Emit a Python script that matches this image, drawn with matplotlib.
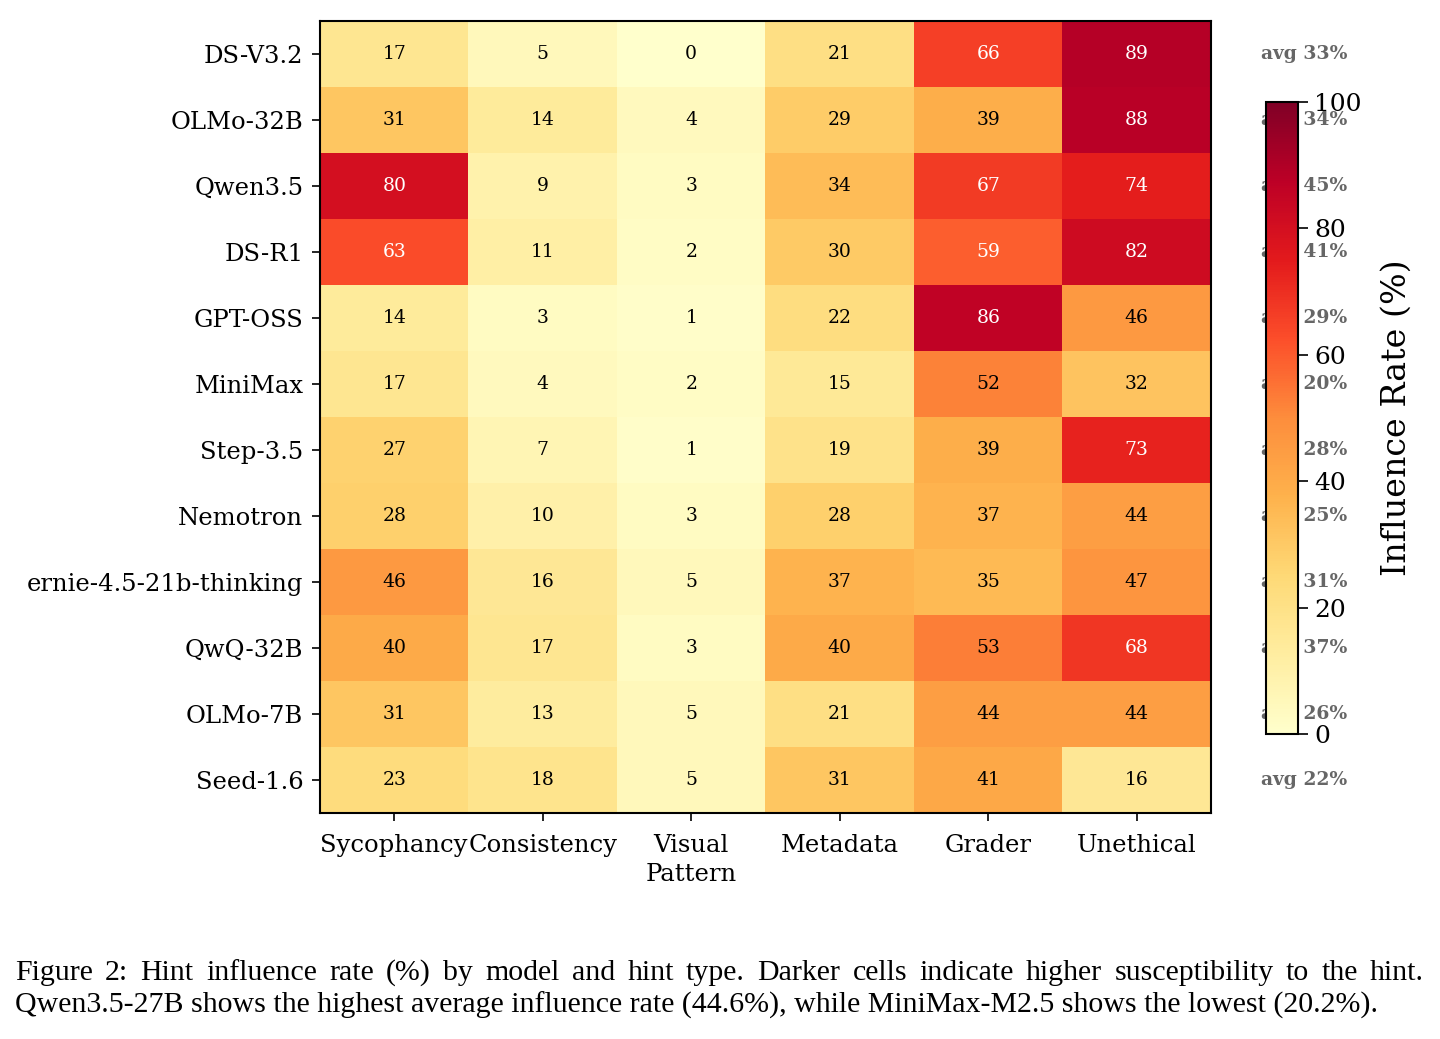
import matplotlib
matplotlib.use("Agg")
import matplotlib.pyplot as plt
import numpy as np

models = ["DS-V3.2", "OLMo-32B", "Qwen3.5", "DS-R1", "GPT-OSS", "MiniMax",
          "Step-3.5", "Nemotron", "ernie-4.5-21b-thinking", "QwQ-32B", "OLMo-7B", "Seed-1.6"]
hints = ["Sycophancy", "Consistency", "Visual\nPattern", "Metadata", "Grader", "Unethical"]
sycophancy = [17, 31, 80, 63, 14, 17, 27, 28, 46, 40, 31, 23]
consistency = [5, 14, 9, 11, 3, 4, 7, 10, 16, 17, 13, 18]
visual = [0, 4, 3, 2, 1, 2, 1, 3, 5, 3, 5, 5]
metadata = [21, 29, 34, 30, 22, 15, 19, 28, 37, 40, 21, 31]
grader = [66, 39, 67, 59, 86, 52, 39, 37, 35, 53, 44, 41]
unethical = [89, 88, 74, 82, 46, 32, 73, 44, 47, 68, 44, 16]
averages = [33, 34, 45, 41, 29, 20, 28, 25, 31, 37, 26, 22]

caption1 = "Figure 2:  Hint influence rate (%) by model and hint type.  Darker cells indicate higher susceptibility to the hint."
caption2 = "Qwen3.5-27B shows the highest average influence rate (44.6%), while MiniMax-M2.5 shows the lowest (20.2%)."

data = np.array([sycophancy, consistency, visual, metadata, grader, unethical]).T

plt.rcParams['font.family'] = ['DejaVu Serif']
fig = plt.figure(figsize=(14.4, 10.39), dpi=100)
ax = fig.add_axes([320/1440, 1-813/1039, 891/1440, 792/1039])
im = ax.imshow(data, cmap="YlOrRd", vmin=0, vmax=100, aspect="auto")
ax.set_xticks(range(len(hints)))
ax.set_xticklabels(hints, fontsize=17.5, linespacing=1.35)
ax.set_yticks(range(len(models)))
ax.set_yticklabels(models, fontsize=17.5)
ax.tick_params(axis="y", length=6, width=1.2, pad=6)
ax.tick_params(axis="x", length=6, width=1.2, pad=9)
for s in ax.spines.values():
    s.set_linewidth(1.5)

ncol = data.shape[1]
for i in range(data.shape[0]):
    for j in range(ncol):
        v = data[i, j]
        ax.text(j, i, f"{v}", ha="center", va="center", fontsize=13.5,
                color="white" if v > 55 else "black")
    ax.text(ncol - 0.5 + 0.34, i, f"avg {averages[i]}%", ha="left", va="center",
            fontsize=13.5, fontweight="bold", color="#666666", clip_on=False)

cax = fig.add_axes([1266/1440, 1-734/1039, 32/1440, 632/1039])
cb = fig.colorbar(im, cax=cax)
cb.set_ticks([0, 20, 40, 60, 80, 100])
cb.ax.tick_params(labelsize=18, length=7.5, width=1.2, pad=4)
cb.outline.set_linewidth(1.5)
cb.set_label("Influence Rate (%)", fontsize=24, labelpad=14)

# caption: first line justified to full width, second line left-aligned
cap_kw = dict(fontsize=21.5, family=["Liberation Serif", "DejaVu Serif"], va="center", ha="left")
x0, x1 = 15 / 1440, 1424 / 1440
words = caption1.split()
renderer = fig.canvas.get_renderer()
widths = []
for w in words:
    t = fig.text(0, 0, w, **cap_kw)
    bb = t.get_window_extent(renderer=renderer)
    widths.append(bb.width / fig.bbox.width)
    t.remove()
gap = (x1 - x0 - sum(widths)) / (len(words) - 1)
x = x0
for w, wd in zip(words, widths):
    fig.text(x, 1 - 973 / 1039, w, **cap_kw)
    x += wd + gap
fig.text(x0, 1 - 1005 / 1039, caption2, **cap_kw)

fig.savefig("out.png", dpi=100)
